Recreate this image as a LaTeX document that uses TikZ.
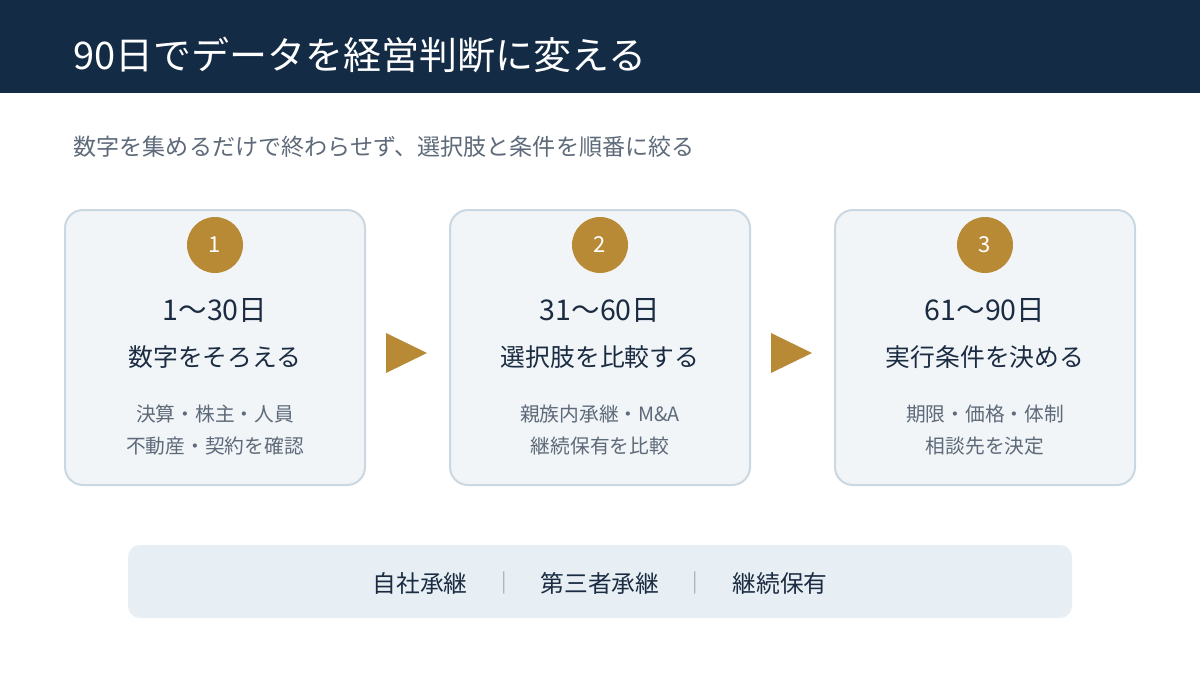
\documentclass[tikz,border=0pt]{standalone}
\usepackage{fontspec}
\setmainfont{Noto Sans CJK JP}
\usepackage{xcolor}
\usepackage{tikz}
\usetikzlibrary{positioning, shapes, calc}

\definecolor{navy}{HTML}{132B45}
\definecolor{inktext}{HTML}{1B2C42}
\definecolor{graytext}{HTML}{5E6A79}
\definecolor{gold}{HTML}{B88A35}
\definecolor{cardfill}{HTML}{F1F5F8}
\definecolor{cardline}{HTML}{CBD8E2}
\definecolor{barfill}{HTML}{E8EFF4}
\definecolor{sepgray}{HTML}{A9B3BE}

\begin{document}
\begin{tikzpicture}[
    x=0.75pt, y=-0.75pt,
    card/.style={rectangle, rounded corners=13.5pt, draw=cardline, line width=1.5pt, fill=cardfill, minimum width=225pt, minimum height=206.25pt},
    badge/.style={circle, fill=gold, minimum size=42pt, inner sep=0pt, text=white, font=\fontsize{16.5}{20}\selectfont},
    period/.style={text=inktext, font=\fontsize{21.4}{25}\selectfont},
    stage/.style={text=inktext, font=\fontsize{18.6}{22}\selectfont},
    detail/.style={text=graytext, align=center, font=\fontsize{14.8}{24.5}\selectfont},
    option/.style={text=inktext, font=\fontsize{17.8}{21}\selectfont},
    sep/.style={text=sepgray, font=\fontsize{15}{18}\selectfont}
]
\useasboundingbox (0,0) rectangle (1200,675);
\fill[white] (0,0) rectangle (1200,675);

% Header
\fill[navy] (0,0) rectangle (1200,93);
\node[anchor=west, text=white, font=\fontsize{28.5}{34}\selectfont] (title) at (69,55) {90日でデータを経営判断に変える};
\node[anchor=west, text=graytext, font=\fontsize{17.3}{20}\selectfont] (subtitle) at (69,147) {数字を集めるだけで終わらせず、選択肢と条件を順番に絞る};

% Cards
\node[card] (card1) at (215,347.5) {};
\node[card] (card2) at (600,347.5) {};
\node[card] (card3) at (985,347.5) {};

% Step 1
\node[badge] (num1) at (215,245) {1};
\node[period] (per1) at (215,310) {1〜30日};
\node[stage] (stg1) at (215,357) {数字をそろえる};
\node[detail] (det1) at (215,430) {決算・株主・人員\\不動産・契約を確認};

% Step 2
\node[badge] (num2) at (600,245) {2};
\node[period] (per2) at (600,310) {31〜60日};
\node[stage] (stg2) at (600,357) {選択肢を比較する};
\node[detail] (det2) at (600,430) {親族内承継・M\&A\\継続保有を比較};

% Step 3
\node[badge] (num3) at (985,245) {3};
\node[period] (per3) at (985,310) {61〜90日};
\node[stage] (stg3) at (985,357) {実行条件を決める};
\node[detail] (det3) at (985,430) {期限・価格・体制\\相談先を決定};

% Arrows between cards
\fill[gold] (386,333) -- (427,353) -- (386,373) -- cycle;
\fill[gold] (771,333) -- (812,353) -- (771,373) -- cycle;

% Options bar
\node[rectangle, rounded corners=9pt, fill=barfill, minimum width=708pt, minimum height=54.75pt] (bar) at (600,581.5) {};
\node[option] (opt1) at (420,583) {自社承継};
\node[sep] (sep1) at (504,583) {|};
\node[option] (opt2) at (600,583) {第三者承継};
\node[sep] (sep2) at (695,583) {|};
\node[option] (opt3) at (780,583) {継続保有};

\end{tikzpicture}
\end{document}
